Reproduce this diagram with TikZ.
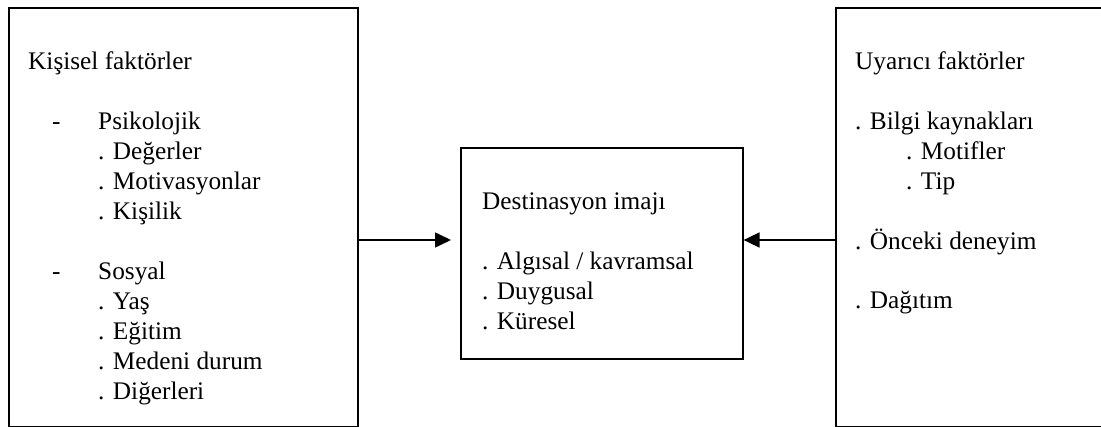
\documentclass[tikz,border=0pt]{standalone}
\usepackage{fontspec}
\setmainfont{Liberation Serif}
\usetikzlibrary{arrows.meta}
\begin{document}
\begin{tikzpicture}[x=1pt,y=-1pt,
  frame/.style={draw, line width=1.6pt, inner sep=0pt, anchor=north west},
  txt/.style={anchor=base west, inner sep=0pt, font=\fontsize{25.3}{30}\selectfont},
  arr/.style={line width=1.6pt, -{Triangle[length=16pt,width=15pt]}}]
\useasboundingbox (0,0) rectangle (1101,427);
\clip (0,0) rectangle (1101,427);

% the three boxes
\node[frame, minimum width=349pt, minimum height=419pt] (left) at (8,7) {};
\node[frame, minimum width=282pt, minimum height=211pt] (mid) at (460,147) {};
\node[frame, minimum width=280pt, minimum height=419pt] (right) at (835,7) {};

% left box: personal factors
\node[txt] (l0) at (28,70) {Kişisel faktörler};
\node[txt] (l2) at (52,130) {-};
\node[txt] (l2t) at (98,130) {Psikolojik};
\node[txt] (l3) at (98,160) {. Değerler};
\node[txt] (l4) at (98,190) {. Motivasyonlar};
\node[txt] (l5) at (98,220) {. Kişilik};
\node[txt] (l7) at (52,280) {-};
\node[txt] (l7t) at (98,280) {Sosyal};
\node[txt] (l8) at (98,310) {. Yaş};
\node[txt] (l9) at (98,340) {. Eğitim};
\node[txt] (l10) at (98,370) {. Medeni durum};
\node[txt] (l11) at (98,400) {. Diğerleri};

% middle box: destination image
\node[txt] (m0) at (482,210) {Destinasyon imajı};
\node[txt] (m2) at (482,270) {. Algısal / kavramsal};
\node[txt] (m3) at (482,300) {. Duygusal};
\node[txt] (m4) at (482,330) {. Küresel};

% right box: stimulus factors
\node[txt] (r0) at (855,70) {Uyarıcı faktörler};
\node[txt] (r2) at (855,130) {. Bilgi kaynakları};
\node[txt] (r3) at (906,160) {. Motifler};
\node[txt] (r4) at (906,190) {. Tip};
\node[txt] (r6) at (855,250) {. Önceki deneyim};
\node[txt] (r8) at (855,309) {. Dağıtım};

% connectors
\coordinate (ay) at (0,240);
\draw[arr, shorten >=9pt] (left.east |- ay) -- (mid.west |- ay);
\draw[arr] (right.west |- ay) -- (mid.east |- ay);
\end{tikzpicture}
\end{document}
